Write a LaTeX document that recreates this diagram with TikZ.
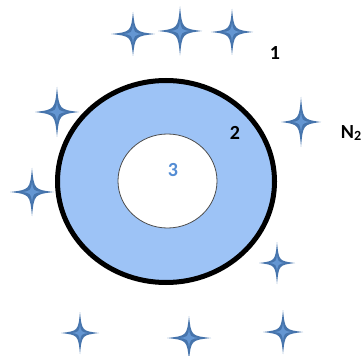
\documentclass[tikz,border=0pt]{standalone}
\usepackage{fontspec}
\setmainfont{Carlito}
\definecolor{ringblue}{RGB}{157,195,246}
\definecolor{starblue}{RGB}{70,116,172}
\definecolor{starlight}{RGB}{100,150,210}
\definecolor{threeblue}{RGB}{84,141,212}
\tikzset{
  lbl/.style={font=\fontsize{20}{24}\selectfont\bfseries, inner sep=0pt},
  pics/star4/.style args={#1/#2}{code={
    \fill[starblue] (0,-#2) .. controls (0.1*#1,-0.1*#2) .. (#1,0)
      .. controls (0.1*#1,0.1*#2) .. (0,#2)
      .. controls (-0.1*#1,0.1*#2) .. (-#1,0)
      .. controls (-0.1*#1,-0.1*#2) .. cycle;
    \fill[starlight] (0,-0.45*#2) .. controls (0.05*#1,-0.05*#2) .. (0.45*#1,0)
      .. controls (0.05*#1,0.05*#2) .. (0,0.45*#2)
      .. controls (-0.05*#1,0.05*#2) .. (-0.45*#1,0)
      .. controls (-0.05*#1,-0.05*#2) .. cycle;
  }}
}
\begin{document}
\begin{tikzpicture}[x=1pt,y=-1pt]
\useasboundingbox (0,0) rectangle (363,355);
% outer ring
\draw[line width=5pt, fill=ringblue] (166,181.5) ellipse [x radius=108.5, y radius=101];
% inner hole
\draw[line width=0.8pt, draw=black!70, fill=white] (167.5,181) ellipse [x radius=49.5, y radius=47];
% stars
\pic at (133,34) {star4={22/22}};
\pic at (180,31) {star4={22/24.5}};
\pic at (232,32) {star4={21/23}};
\pic at (57,112) {star4={22/25}};
\pic at (301,122) {star4={20/25}};
\pic at (32,192) {star4={22/24}};
\pic at (277,263) {star4={18/21}};
\pic at (80,333) {star4={19/21}};
\pic at (189,338) {star4={22/22}};
\pic at (283,332) {star4={20/22}};
% labels
\node[lbl] (one) at (275,53) {1};
\node[lbl] (two) at (235,133) {2};
\node[lbl, text=threeblue] (three) at (173,170) {3};
\node[lbl] (n2) at (351,133) {N\raisebox{-0.3ex}{\fontsize{14}{16}\selectfont 2}};
\end{tikzpicture}
\end{document}
